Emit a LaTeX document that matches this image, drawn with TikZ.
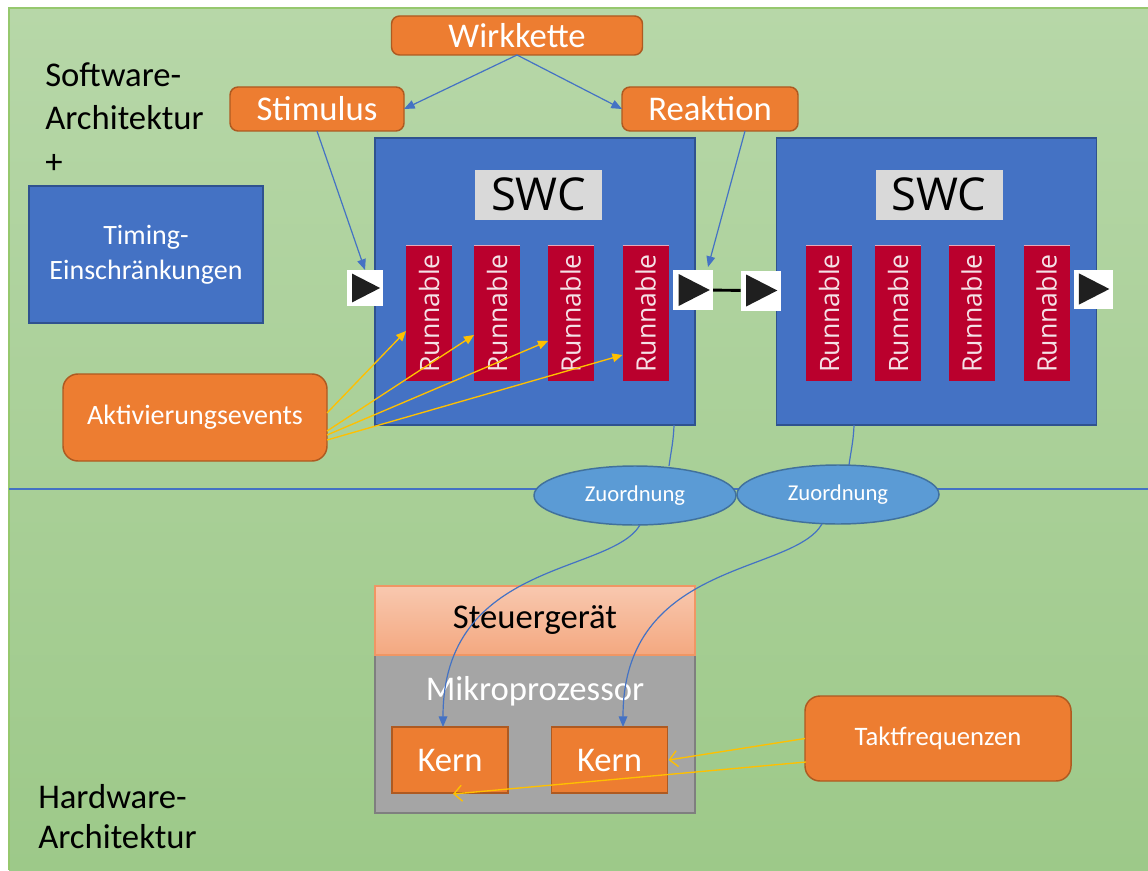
\documentclass[tikz,border=0pt]{standalone}
\usepackage{fontspec}
\setmainfont{Carlito}
\newfontfamily\segoe{Open Sans}
\usetikzlibrary{arrows.meta,shapes.geometric,calc}

\definecolor{orng}{RGB}{237,125,49}
\definecolor{orngdk}{RGB}{174,90,33}
\definecolor{blu}{RGB}{68,114,196}
\definecolor{bludk}{RGB}{47,82,143}
\definecolor{runred}{RGB}{186,0,45}
\definecolor{runtxt}{RGB}{245,225,230}
\definecolor{runtop}{RGB}{230,170,185}
\definecolor{ell}{RGB}{91,155,213}
\definecolor{elldk}{RGB}{65,113,156}
\definecolor{ylw}{RGB}{255,192,0}
\definecolor{gry}{RGB}{165,165,165}
\definecolor{grydk}{RGB}{127,127,127}
\definecolor{gtop}{RGB}{183,215,168}
\definecolor{gbot}{RGB}{157,201,137}
\definecolor{gedge}{RGB}{150,200,110}
\definecolor{salmtop}{RGB}{248,200,175}
\definecolor{salmbot}{RGB}{244,168,128}
\definecolor{salmdk}{RGB}{240,150,100}
\definecolor{swcgray}{RGB}{217,217,217}
\definecolor{conn}{RGB}{68,114,196}

\newcommand\fbig{\fontsize{26}{31}\selectfont}
\newcommand\fmed{\fontsize{21}{26}\selectfont}
\newcommand\fzu{\fontsize{17}{20}\selectfont}

\tikzset{
  sz/.style 2 args={minimum width=#1*0.75pt, minimum height=#2*0.75pt, inner sep=0pt, outer sep=0pt},
  obox/.style={draw=orngdk, fill=orng, line width=1.1pt, rounded corners=#1*0.75pt, text=white, font=\fbig},
  obox/.default=8,
  kbox/.style={draw=orngdk, fill=orng, line width=1.1pt, text=white, font=\fbig},
  swcbox/.style={draw=bludk, fill=blu, line width=1.2pt},
  swclbl/.style={fill=swcgray, sz={127}{50}, font=\segoe\fontsize{34}{40}\selectfont},
  runbox/.style={fill=runred, text=runtxt, sz={135}{46}, rotate=90,
    font=\segoe\fontsize{20}{23}\selectfont,
    append after command={\pgfextra{\draw[runtop, line width=0.9pt] (\tikzlastnode.north east) -- (\tikzlastnode.south east);}}},
  portbox/.style={fill=white, sz={#1}{#1},
    path picture={\fill[black!88]
      ([xshift=-0.36*#1*0.75pt, yshift=0.4*#1*0.75pt]path picture bounding box.center) --
      ([xshift=0.42*#1*0.75pt]path picture bounding box.center) --
      ([xshift=-0.36*#1*0.75pt, yshift=-0.4*#1*0.75pt]path picture bounding box.center) -- cycle;}},
  lbl/.style={inner sep=0pt, font=\fbig, anchor=base west},
  zu/.style={ellipse, draw=elldk, fill=ell, line width=1.1pt, text=white, font=\fzu, sz={202}{59}},
  bluarrow/.style={draw=conn, line width=0.9pt, -{Triangle[length=8pt,width=6.5pt]}},
  bluline/.style={draw=conn, line width=0.9pt},
  ylwarrow/.style={draw=ylw, line width=1pt, -{Triangle[length=7.5pt,width=6.5pt]}},
  ylwopen/.style={draw=ylw, line width=1pt, -{Straight Barb[length=6pt,width=12pt]}}
}

\begin{document}
\begin{tikzpicture}[x=0.75pt,y=-0.75pt]
\useasboundingbox (0,0) rectangle (1148,870);
\fill[white] (0,0) rectangle (1148,870);
\shade[top color=gtop, bottom color=gbot] (9,8) rectangle (1148,870);
\draw[gedge, line width=0.8pt] (9,870) -- (9,8) -- (1148,8);
\draw[conn, line width=0.9pt] (9,489) -- (1148,489);

% side labels
\node[lbl] (sw1) at (45,87) {Software-};
\node[lbl] (sw2) at (45,130) {Architektur};
\node[lbl] (sw3) at (45,173) {+};
\node[lbl] (hw1) at (38,808) {Hardware-};
\node[lbl] (hw2) at (38,848) {Architektur};

% timing box
\node[swcbox, sz={234}{137}, text=white, align=center, font=\fmed] (timing) at (146,254.5) {Timing-\\Einschränkungen};

% top orange boxes
\node[obox, sz={251}{39}] (wirk) at (517,35.5) {Wirkkette};
\node[obox, sz={174}{44}] (stim) at (317,109) {Stimulus};
\node[obox, sz={176}{44}] (reak) at (710,109) {Reaktion};

% SWCs
\node[swcbox, sz={320}{287}] (swc1) at (535,281.5) {};
\node[swcbox, sz={320}{287}] (swc2) at (936.5,281.5) {};
\node[swclbl] (swcl1) at (538.5,194.5) {SWC};
\node[swclbl] (swcl2) at (939,194.5) {SWC};

\node[runbox] (r1) at (429,313.5) {Runnable};
\node[runbox] (r2) at (497,313.5) {Runnable};
\node[runbox] (r3) at (570.5,313.5) {Runnable};
\node[runbox] (r4) at (645.5,313.5) {Runnable};
\node[runbox] (r5) at (829,313.5) {Runnable};
\node[runbox] (r6) at (898,313.5) {Runnable};
\node[runbox] (r7) at (971.5,313.5) {Runnable};
\node[runbox] (r8) at (1046.5,313.5) {Runnable};

% ports
\node[portbox=36] (p1) at (365,288) {};
\node[portbox=40] (p2) at (693,290) {};
\node[portbox=40] (p3) at (760.5,290.5) {};
\node[portbox=39] (p4) at (1093,289) {};
\draw[black, line width=2.2pt] (p2) -- (p3);

% Wirkkette arrows
\draw[bluarrow] (wirk.south) -- (stim.east);
\draw[bluarrow] (wirk.south) -- (reak.west);
\draw[bluarrow] (stim.south) -- (p1.north);
\draw[bluarrow] ($(reak.south)+(35,0)$) -- ($(p2.north)+(15,-3)$);

% Aktivierungsevents
\node[obox=15, sz={264}{87}, font=\fmed] (akt) at (195,417.5) {Aktivierungsevents};
\draw[ylwarrow] ($(akt.east)+(0,-4.5)$) -- ($(r1.center)+(-23,17.5)$);
\draw[ylwarrow] ($(akt.east)+(0,13.5)$) -- ($(r2.center)+(-23,21.5)$);
\draw[ylwarrow] ($(akt.east)+(0,17.5)$) -- ($(r3.center)+(-22.5,27.5)$);
\draw[ylwarrow] ($(akt.east)+(0,22.5)$) -- ($(r4.center)+(-23,41.5)$);

% Zuordnung
\node[zu] (z1) at (635,495.5) {Zuordnung};
\node[zu] (z2) at (838,494.5) {Zuordnung};
\draw[bluline] ($(swc1.south)+(139,0)$) to[out=-92,in=82] ($(z1.north)+(34,0)$);
\draw[bluline] ($(swc2.south)+(-82.5,0)$) to[out=-92,in=82] ($(z2.north)+(11,0)$);

% hardware
\node[fill=gry, draw=grydk, line width=1.1pt, sz={320}{158}] (mp) at (535,734) {};
\node[sz={320}{69}, top color=salmtop, bottom color=salmbot, draw=salmdk, line width=1pt, font=\fbig] (sg) at (535,620.5) {Steuergerät};
\node[inner sep=0pt, anchor=base, text=white, font=\fbig] (mpt) at (535,700) {Mikroprozessor};
\node[kbox, sz={116}{66}] (k1) at (450,760) {Kern};
\node[kbox, sz={116}{66}] (k2) at (609.5,760) {Kern};

\draw[bluarrow] ($(z1.south)+(5,0)$) .. controls (610,575) and (443,560) .. ($(k1.north)+(-7,0)$);
\draw[bluarrow] ($(z2.south)+(-16,0)$) .. controls (792,575) and (623,560) .. ($(k2.north)+(13.5,0)$);

% Taktfrequenzen
\node[obox=15, sz={266}{85}, font=\fontsize{20}{24}\selectfont] (takt) at (938,738.5) {Taktfrequenzen};
\draw[ylwopen] (takt.west) -- ($(k2.east)+(1,0)$);
\draw[ylwopen] ($(takt.west)+(1,23.5)$) -- ($(k1.south)+(3,1)$);
\end{tikzpicture}
\end{document}
